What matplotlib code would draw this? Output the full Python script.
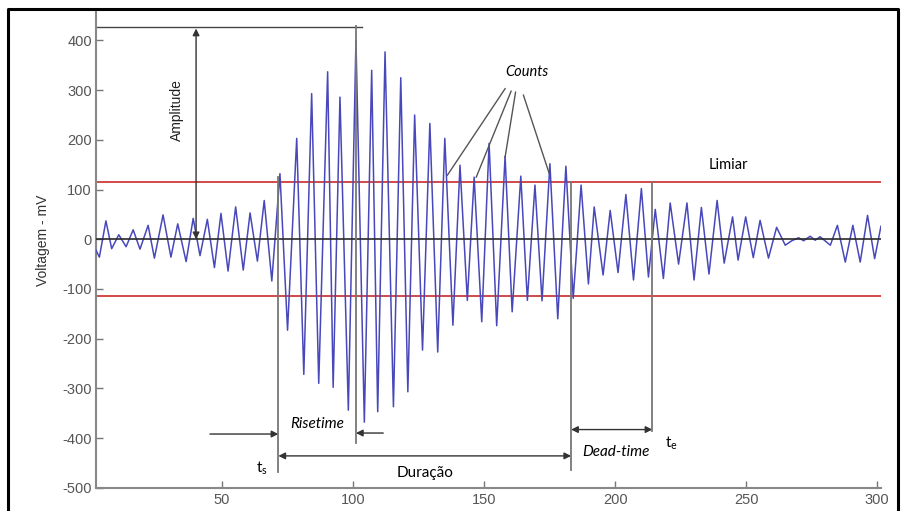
import matplotlib
from matplotlib import pyplot as plt
from matplotlib.lines import Line2D

matplotlib.use("Agg")

# waveform extrema: time (us) and voltage (mV)
time = [1.9, 3.2, 5.7, 7.9, 10.6, 13.4, 16.1, 18.7, 21.8, 24.2, 27.5, 30.5, 33.1, 36.3, 39.0,
        41.6, 44.4, 47.1, 49.6, 52.3, 55.2, 58.1, 60.7, 63.5, 66.1, 69.0, 72.1, 75.0, 78.5,
        81.2, 84.2, 86.9, 90.3, 92.4, 95.0, 98.2, 101.1, 104.3, 107.1, 109.4, 112.2, 115.4,
        118.2, 120.9, 123.5, 126.5, 129.3, 132.3, 135.0, 138.1, 140.8, 143.6, 146.2, 149.1,
        151.9, 154.8, 158.0, 160.7, 164.0, 166.5, 169.4, 172.1, 175.1, 178.1, 181.2, 184.0,
        187.0, 189.8, 192.0, 195.4, 198.1, 201.1, 204.1, 207.0, 210.0, 212.7, 215.3, 218.4,
        221.0, 224.2, 227.4, 230.1, 232.9, 235.8, 238.9, 241.6, 244.8, 246.9, 249.8, 252.7,
        255.3, 258.5, 261.6, 264.9, 267.4, 270.0, 271.9, 274.4, 276.3, 278.2, 282.1, 284.8,
        287.8, 290.7, 293.5, 296.3, 299.0, 301.4]
voltage = [-22, -36, 37, -19, 9, -15, 19, -20, 28, -38, 49, -36, 31, -45, 42,
           -33, 40, -57, 52, -64, 65, -62, 53, -44, 78, -84, 132, -183, 203,
           -272, 293, -290, 337, -298, 286, -344, 400, -368, 340, -347, 377, -337,
           325, -307, 250, -223, 233, -227, 203, -173, 149, -123, 125, -166,
           193, -174, 167, -146, 127, -123, 109, -124, 152, -160, 147, -119,
           109, -90, 65, -72, 58, -67, 90, -82, 102, -76, 60, -79,
           73, -50, 73, -82, 64, -70, 78, -48, 45, -42, 45, -37,
           38, -38, 24, -12, -3, 3, -3, 6, -2, 5, -12, 28,
           -46, 28, -46, 48, -39, 26]

threshold = 115
amplitude = 427
t_start = 71.5
t_peak = 101.1
t_duration_end = 183.2
t_end = 214.2

# "Counts" pointer lines: label side -> peak side
count_roots = [(158.0, 303), (160.3, 298), (162.0, 296), (165.0, 290)]
count_tips = [(136.0, 129), (147.0, 125), (158.0, 165), (174.8, 133)]

x_ticks = [50, 100, 150, 200, 250, 300]
y_ticks = [-500, -400, -300, -200, -100, 0, 100, 200, 300, 400]

plt.rcParams['font.family'] = ['Liberation Sans', 'DejaVu Sans']
plt.rcParams['axes.unicode_minus'] = False
note_font = ['Lato', 'DejaVu Sans']

fig = plt.figure(figsize=(9.01, 5.11), dpi=100)
ax = fig.add_axes([0.1065, 0.0456, 0.8715, 0.9345])

ax.plot(time, voltage, color='#4848bb', lw=1.1, zorder=3)
ax.plot([2, 303], [threshold, threshold], color='#cc2a2a', lw=1.2, zorder=2)
ax.plot([2, 303], [-threshold, -threshold], color='#cc2a2a', lw=1.2, zorder=2)
ax.plot([2, 302], [0, 0], color='#2a2a2a', lw=1.2, zorder=4)

# amplitude marker
ax.plot([2, 103.3], [amplitude, amplitude], color='#444444', lw=1.0)
ax.plot([t_peak, t_peak], [amplitude + 3, -411], color='#777777', lw=1.3, zorder=5)
ax.annotate('', xy=(40.1, 424), xytext=(40.1, 0),
            arrowprops=dict(arrowstyle='<|-|>', color='#333333', lw=1.0,
                            mutation_scale=10, shrinkA=0, shrinkB=0))
ax.text(32.7, 260, 'Amplitude', rotation=90, ha='center', va='center',
        fontsize=10, color='#222222')

# start / end markers
ax.plot([t_start, t_start], [125, -468], color='#777777', lw=1.3, zorder=5)
ax.plot([t_duration_end, t_duration_end], [threshold, -465], color='#777777', lw=1.3, zorder=5)
ax.plot([t_end, t_end], [threshold, -386], color='#777777', lw=1.3, zorder=5)

arrow = dict(arrowstyle='-|>', color='#333333', lw=1.0, mutation_scale=10, shrinkA=0, shrinkB=0)
both = dict(arrowstyle='<|-|>', color='#333333', lw=1.0, mutation_scale=10, shrinkA=0, shrinkB=0)
ax.annotate('', xy=(t_start, -392), xytext=(45.4, -392), arrowprops=arrow)
ax.annotate('', xy=(t_peak, -390), xytext=(111.5, -390), arrowprops=arrow)
ax.annotate('', xy=(t_duration_end, -436), xytext=(t_start, -436), arrowprops=both)
ax.annotate('', xy=(t_end, -383), xytext=(t_duration_end, -383), arrowprops=both)

ax.text(86.5, -372, 'Risetime', style='italic', ha='center', va='center',
        fontsize=11, family=note_font)
ax.text(127.4, -471, 'Duração', ha='center', va='center', fontsize=11, family=note_font)
ax.text(200.4, -428, 'Dead-time', style='italic', ha='center', va='center',
        fontsize=11, family=note_font)
ax.text(65.2, -461, r't$_\mathregular{s}$', ha='center', va='center', fontsize=11, family=note_font)
ax.text(221.6, -410, r't$_\mathregular{e}$', ha='center', va='center', fontsize=11, family=note_font)
ax.text(243.3, 149, 'Limiar', ha='center', va='center', fontsize=10.5, family=note_font)
ax.text(166.4, 336, 'Counts', style='italic', ha='center', va='center',
        fontsize=10.5, family=note_font)

for (x0, y0), (x1, y1) in zip(count_roots, count_tips):
    ax.plot([x0, x1], [y0, y1], color='#555555', lw=1.0, zorder=6)

ax.set_xlim(1.9, 301.5)
ax.set_ylim(-500, 461)
ax.set_xticks(x_ticks)
ax.set_yticks(y_ticks)
ax.tick_params(direction='in', length=5, width=1, color='#777777',
               labelcolor='#555555', labelsize=10.5, pad=3)
ax.tick_params(axis='x', pad=4)
for side in ['top', 'right']:
    ax.spines[side].set_visible(False)
for side in ['left', 'bottom']:
    ax.spines[side].set_color('#888888')
    ax.spines[side].set_linewidth(1.5)

ax.set_ylabel('Voltagem - mV', fontsize=10, color='#333333')
ax.yaxis.set_label_coords(-0.058, 0.518)

# picture frame
fig.add_artist(Line2D([0.0089, 0.0089, 0.9967, 0.9967], [0, 0.9824, 0.9824, 0],
                      transform=fig.transFigure, color='black', lw=2.2))

plt.savefig("out.png", dpi=100)
plt.close()
